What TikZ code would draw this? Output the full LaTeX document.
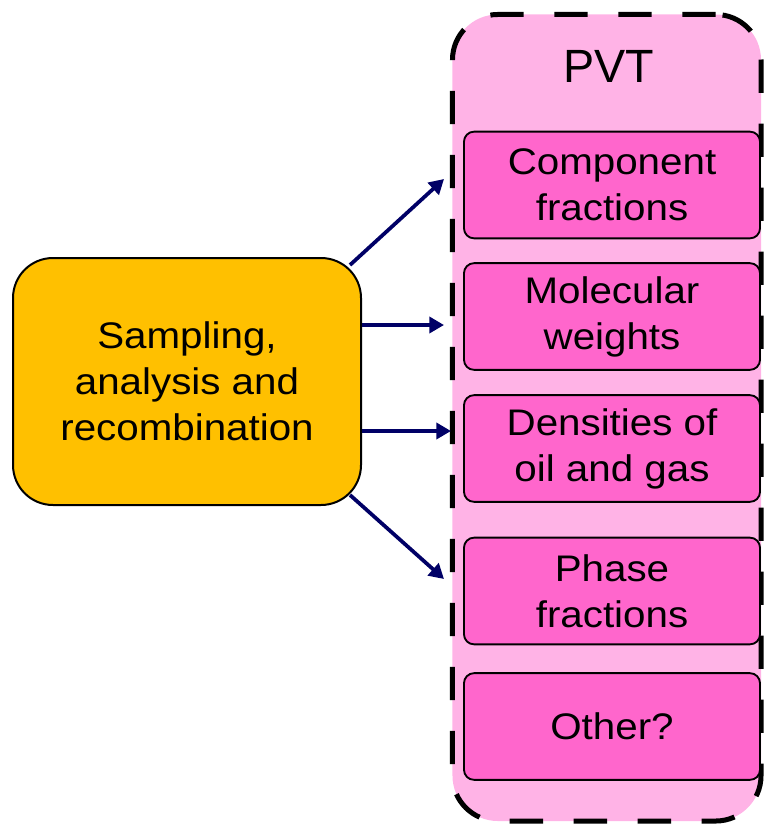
\documentclass[tikz,border=0pt]{standalone}
\usepackage{fontspec}
\setmainfont{Liberation Sans}[FakeStretch=1.09]
\newfontfamily\titlefont{Liberation Sans}
\usetikzlibrary{arrows.meta}
\definecolor{amber}{HTML}{FFC000}
\definecolor{palepink}{HTML}{FFB3E6}
\definecolor{hotpink}{HTML}{FF66CC}
\definecolor{navyline}{HTML}{000066}

\begin{document}
\begin{tikzpicture}[x=0.75pt,y=-0.75pt,
  bodytext/.style={font=\fontsize{27.75}{34.5}\selectfont, align=center, text=black},
  srcbox/.style={bodytext, draw=black, line width=1.5pt, fill=amber,
    rounded corners=30pt, minimum width=261pt, minimum height=185.25pt, inner sep=0pt},
  groupbox/.style={draw=black, line width=3.75pt, dash pattern=on 25pt off 23pt,
    fill=palepink, rounded corners=34pt, minimum width=231.4pt, minimum height=604.9pt,
    inner sep=0pt},
  itembox/.style={bodytext, draw=black, line width=1.4pt, fill=hotpink,
    rounded corners=7.5pt, minimum width=222pt, minimum height=80pt, inner sep=0pt},
  arr/.style={draw=navyline, line width=2.8pt, -{Triangle[length=11pt,width=12pt]}}
]
\useasboundingbox (0,0) rectangle (764,825);

% PVT group with its items
\node[groupbox] (pvt) at (606.75,417.75) {};
\node[font=\titlefont\fontsize{35}{42}\selectfont] (pvtlabel) at (609,66) {PVT};
\node[itembox] (comp)  at (612,185)   {Component\\fractions};
\node[itembox] (molw)  at (612,316.5) {Molecular\\weights};
\node[itembox] (dens)  at (612,448.5) {Densities of\\oil and gas};
\node[itembox] (phase) at (612,591)   {Phase\\fractions};
\node[itembox] (other) at (612,726.5) {Other?};

% source step
\node[srcbox] (src) at (187,381.5) {Sampling,\\analysis and\\recombination};

% arrow ends
\coordinate (s1) at (350,265);
\coordinate (t1) at (444,179);
\coordinate (t2) at (444,325);
\coordinate (t3) at (451,431);
\coordinate (s4) at (350,495);
\coordinate (t4) at (444,579);

\draw[arr] (s1) -- (t1);
\draw[arr] (src.east |- t2) -- (t2);
\draw[arr] (src.east |- t3) -- (t3);
\draw[arr] (s4) -- (t4);
\end{tikzpicture}
\end{document}
